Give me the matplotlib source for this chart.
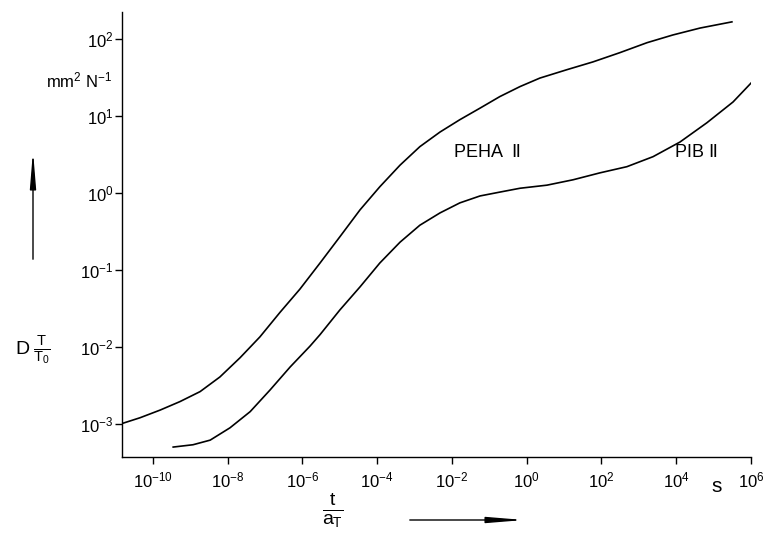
import numpy as np
import matplotlib
matplotlib.use('Agg')
import matplotlib.pyplot as plt

plt.rcParams['font.family'] = ['Liberation Sans', 'DejaVu Sans']
plt.rcParams['mathtext.fontset'] = 'custom'
plt.rcParams['mathtext.rm'] = 'Liberation Sans'
plt.rcParams['mathtext.it'] = 'Liberation Sans:italic'
plt.rcParams['mathtext.default'] = 'regular'

# log10(t/aT) and log10(D T/T0)
peha_logt = [-10.80, -10.35, -9.81, -9.28, -8.74, -8.21, -7.67, -7.14, -6.60,
             -6.07, -5.53, -5.00, -4.46, -3.93, -3.39, -2.86, -2.32, -1.79,
             -1.25, -0.72, -0.18, 0.35, 1.08, 1.77, 2.49, 3.22, 3.91, 4.64, 5.49]
peha_logd = [-2.99, -2.92, -2.82, -2.71, -2.58, -2.39, -2.14, -1.87, -1.55,
             -1.25, -0.91, -0.57, -0.22, 0.08, 0.36, 0.60, 0.79, 0.95,
             1.10, 1.25, 1.38, 1.49, 1.60, 1.70, 1.82, 1.95, 2.05, 2.14, 2.22]

pib_logt = [-9.46, -8.93, -8.47, -7.94, -7.40, -6.87, -6.33, -5.80, -5.53,
            -5.00, -4.46, -3.93, -3.39, -2.86, -2.32, -1.79, -1.25, -0.72,
            -0.18, 0.54, 1.24, 1.96, 2.68, 3.38, 4.10, 4.82, 5.52, 6.03]
pib_logd = [-3.30, -3.27, -3.21, -3.05, -2.84, -2.56, -2.26, -1.99, -1.84,
            -1.52, -1.22, -0.91, -0.64, -0.42, -0.26, -0.13, -0.04, 0.01,
            0.06, 0.10, 0.17, 0.26, 0.34, 0.47, 0.66, 0.91, 1.18, 1.44]

xtick_exp = [-10, -8, -6, -4, -2, 0, 2, 4, 6]
ytick_exp = [-3, -2, -1, 0, 1, 2]

fig = plt.figure(figsize=(7.77, 5.39), dpi=100)
ax = fig.add_axes([0.157, 0.152, 0.8095, 0.826])

ax.plot(10.0 ** np.array(peha_logt), 10.0 ** np.array(peha_logd), color='k', lw=1.2)
ax.plot(10.0 ** np.array(pib_logt), 10.0 ** np.array(pib_logd), color='k', lw=1.2)

ax.set_xscale('log')
ax.set_yscale('log')
ax.set_xlim(10 ** -10.83, 10 ** 6.0)
ax.set_ylim(10 ** -3.43, 10 ** 2.35)

ax.set_xticks([10.0 ** e for e in xtick_exp])
ax.set_xticklabels(['10$^{%d}$' % e for e in xtick_exp])
ax.set_yticks([10.0 ** e for e in ytick_exp])
ax.set_yticklabels(['10$^{%d}$' % e for e in ytick_exp])
ax.minorticks_off()
ax.tick_params(axis='both', direction='out', length=5, width=1, labelsize=12)
ax.tick_params(axis='x', pad=5)
ax.tick_params(axis='y', pad=1)

for s in ['top', 'right']:
    ax.spines[s].set_visible(False)
for s in ['left', 'bottom']:
    ax.spines[s].set_linewidth(1.0)

ax.text(10 ** -1.06, 10 ** 0.53, 'PEHA  Ⅱ', fontsize=13, ha='center', va='center')
ax.text(10 ** 4.55, 10 ** 0.53, 'PIB Ⅱ', fontsize=13, ha='center', va='center')

# units and axis labels
fig.text(112 / 777, 1 - 80 / 539, 'mm$^2$ N$^{-1}$', fontsize=12, ha='right', va='center')
fig.text(717 / 777, 1 - 487 / 539, 's', fontsize=15, ha='center', va='center')
fig.text(22 / 777, 1 - 350 / 539, 'D', fontsize=14, ha='center', va='center')
fig.text(42 / 777, 1 - 350 / 539, r'$\frac{T}{T_0}$', fontsize=15, ha='center', va='center')
fig.text(333 / 777, 1 - 510 / 539, r'$\frac{t}{a_T}$', fontsize=20, ha='center', va='center')

ax.annotate('', xy=(33 / 777, 1 - 148 / 539), xytext=(33 / 777, 1 - 262 / 539),
            xycoords='figure fraction', textcoords='figure fraction',
            arrowprops=dict(arrowstyle='-|>,head_length=2.2,head_width=0.18',
                            color='k', lw=1.0))
ax.annotate('', xy=(527 / 777, 1 - 520 / 539), xytext=(407 / 777, 1 - 520 / 539),
            xycoords='figure fraction', textcoords='figure fraction',
            arrowprops=dict(arrowstyle='-|>,head_length=2.2,head_width=0.18',
                            color='k', lw=1.0))

fig.savefig('out.png', dpi=100)
